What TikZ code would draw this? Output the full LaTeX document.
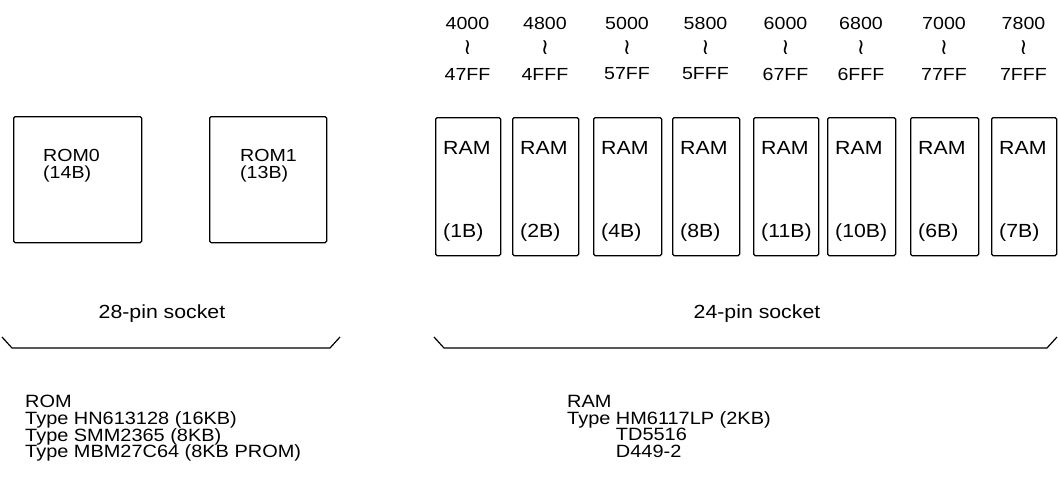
\documentclass[tikz,border=0pt]{standalone}
\usepackage{fontspec}
\setmainfont[FakeStretch=1.12]{Liberation Sans}
\newfontfamily\symfont{DejaVu Sans}
\begin{document}
\begin{tikzpicture}[x=1pt,y=-1pt,
  chip/.style={draw,line width=1.3pt,rounded corners=1.5pt,inner sep=0pt},
  lab/.style={font=\fontsize{19}{21}\selectfont,inner sep=0pt,anchor=west},
  romlab/.style={font=\fontsize{17.5}{17}\selectfont,inner sep=0pt,anchor=west,align=left},
  ctr/.style={font=\fontsize{19}{21}\selectfont,inner sep=0pt},
  addr/.style={font=\fontsize{17.5}{17.5}\selectfont,inner sep=0pt},
  wave/.style={font=\symfont\fontsize{22}{22}\selectfont,inner sep=0pt},
  note/.style={font=\fontsize{17.8}{16.7}\selectfont,inner sep=0pt,anchor=north west,align=left},
  brace/.style={line width=1.2pt,line join=round}]
\useasboundingbox (0,0) rectangle (1058,487);
% ROM sockets
\node[chip,minimum width=128pt,minimum height=126pt,anchor=north west] (rom0) at (13,116) {};
\node[chip,minimum width=117pt,minimum height=126pt,anchor=north west] (rom1) at (209,116) {};
\node[romlab] (rom0t) at (43,166) {ROM0\\(14B)};
\node[romlab] (rom1t) at (240,166) {ROM1\\(13B)};
% RAM sockets
\foreach \l/\r/\id/\a/\b [count=\i] in {435/500/1B/4000/47FF,512/578/2B/4800/4FFF,593/661/4B/5000/57FF,672/739/8B/5800/5FFF,753/818/11B/6000/67FF,827/895/10B/6800/6FFF,910/978/6B/7000/77FF,991/1056/7B/7800/7FFF}{
  \node[chip,minimum width={(\r-\l)*1pt},minimum height=138pt,anchor=north west] (ram\i) at (\l,117) {};
  \node[lab] (ramt\i) at (\l+8,148) {RAM};
  \node[lab] (ramid\i) at (\l+8,233) {(\id)};
  \node[addr] (adA\i) at ({(\l+\r)/2},23) {\a};
  \node[wave] (adW\i) at ({(\l+\r)/2},48) {≀};
  \node[addr] (adB\i) at ({(\l+\r)/2},74) {\b};
}
% socket labels and brackets
\node[ctr] (s28) at (162,314) {28-pin socket};
\node[ctr] (s24) at (757,314) {24-pin socket};
\coordinate (b28a) at (2,337);
\coordinate (b28b) at (12,348);
\coordinate (b28c) at (330,348);
\coordinate (b28d) at (340,337);
\draw[brace] (b28a) -- (b28b) -- (b28c) -- (b28d);
\coordinate (b24a) at (434,337);
\coordinate (b24b) at (444,348);
\coordinate (b24c) at (1047,348);
\coordinate (b24d) at (1057,337);
\draw[brace] (b24a) -- (b24b) -- (b24c) -- (b24d);
% type notes
\node[note] (romnote) at (25,395) {ROM\\Type HN613128 (16KB)\\Type SMM2365 (8KB)\\Type MBM27C64 (8KB PROM)};
\node[note] (ramnote) at (567,395) {RAM\\Type HM6117LP (2KB)\\\phantom{Type }TD5516\\\phantom{Type }D449-2};
\end{tikzpicture}
\end{document}
